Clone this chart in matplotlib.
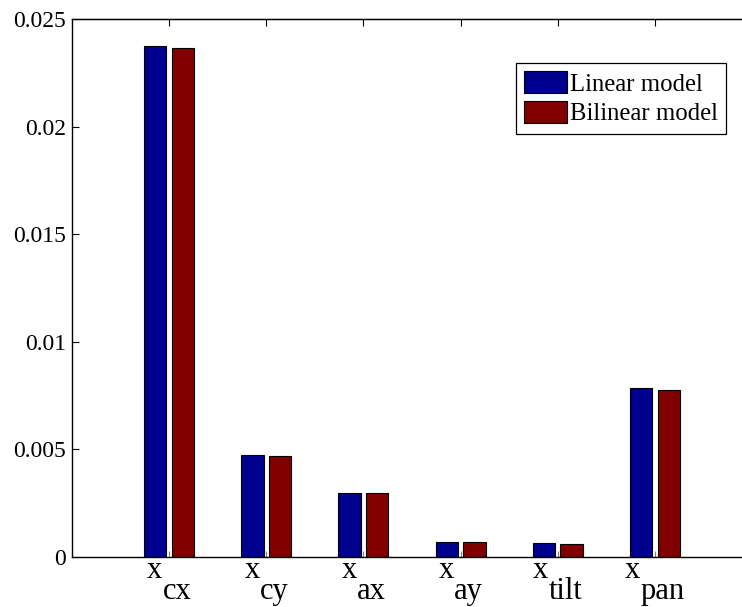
import matplotlib
matplotlib.use("Agg")
import matplotlib.pyplot as plt
import numpy as np

plt.rcParams["font.family"] = ["Liberation Serif", "DejaVu Serif"]

# Data
subscripts = ["cx", "cy", "ax", "ay", "tilt", "pan"]
linear_model = [0.02376, 0.00473, 0.00296, 0.00070, 0.00062, 0.00783]
bilinear_model = [0.02365, 0.00470, 0.00295, 0.00070, 0.00060, 0.00777]
series_names = ["Linear model", "Bilinear model"]
ytick_values = [0, 0.005, 0.01, 0.015, 0.02, 0.025]
ytick_labels = ["0", "0.005", "0.01", "0.015", "0.02", "0.025"]

pos = np.arange(1, len(subscripts) + 1)
width = 0.229
offset = 0.143

fig = plt.figure(figsize=(7.42, 6.07), dpi=100)
# axes run past the right edge of the figure like the cropped original
ax = fig.add_axes([72 / 742, (607 - 556.7) / 607, 680 / 742, 537.4 / 607])

ax.bar(pos - offset, linear_model, width, color="#00008F", edgecolor="black",
       linewidth=0.8, label=series_names[0])
ax.bar(pos + offset, bilinear_model, width, color="#800000", edgecolor="black",
       linewidth=0.8, label=series_names[1])

ax.set_xlim(0, 7)
ax.set_ylim(0, 0.025)
ax.set_yticks(ytick_values)
ax.set_yticklabels(ytick_labels, fontsize=17)
ax.set_xticks(pos)
ax.set_xticklabels([])
ax.tick_params(axis="y", direction="in", length=5, width=0.8, pad=4.5)
ax.tick_params(axis="x", direction="in", length=4, width=0.8, color="#808080",
               top=False)
for sp in ax.spines.values():
    sp.set_linewidth(1.0)

# top ticks in black
top = ax.secondary_xaxis("top")
top.set_xticks(pos)
top.set_xticklabels([])
top.tick_params(direction="in", length=5, width=0.8, color="black")

leg = ax.legend(loc="upper right", bbox_to_anchor=(0.962, 0.919),
                borderaxespad=0, fontsize=17.8, fancybox=False, framealpha=1,
                edgecolor="black", handlelength=1.75, handleheight=1.0,
                handletextpad=0.12, borderpad=0.33, labelspacing=0.22)
leg.get_frame().set_linewidth(0.9)

# x labels: "x" with a low, full-size subscript, centred on each tick
fig.canvas.draw()
r = fig.canvas.get_renderer()
for i, sub in enumerate(subscripts):
    tx = ax.annotate("x", xy=(pos[i], 0), xycoords=("data", "axes fraction"),
                     xytext=(0, -21), textcoords="offset pixels",
                     ha="left", va="baseline", fontsize=22)
    ts = ax.annotate(sub, xy=(pos[i], 0), xycoords=("data", "axes fraction"),
                     xytext=(0, -42), textcoords="offset pixels",
                     ha="left", va="baseline", fontsize=22)
    wx = tx.get_window_extent(r).width
    ws = ts.get_window_extent(r).width
    shift = -(wx + ws) / 2
    tx.xyann = (shift, -21)
    ts.xyann = (shift + wx, -42)

fig.savefig("out.png", dpi=100)
